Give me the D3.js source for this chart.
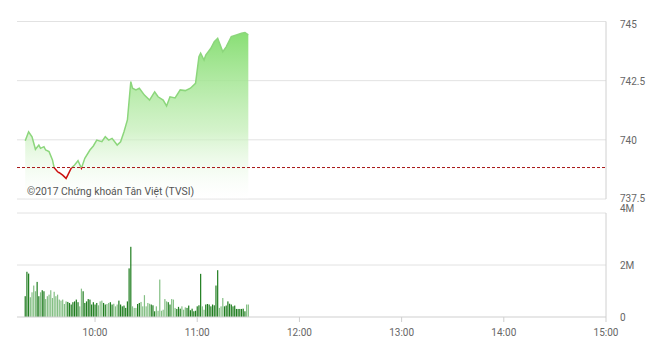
<!DOCTYPE html>
<html lang="en">
<head>
<meta charset="utf-8">
<script src="https://d3js.org/d3.v7.min.js"></script>
<style type="text/css">
body {
	margin: 0;
	background: #fff;
}
text {
	font-family: Roboto, "Noto Sans", sans-serif;
}
.tick-label {
	font-size: 10px;
	fill: #666;
}
.copyright {
	font-size: 10.4px;
	fill: #555;
}
</style>
</head>
<body>
<script type="text/javascript">

// Price series (HH:MM, index points)
var priceTimes = ["9:19","9:21","9:23","9:25","9:27","9:28","9:30","9:31","9:33","9:35",
                  "9:36","9:38","9:39","9:41","9:43","9:44","9:46","9:48","9:50","9:52",
                  "9:54","9:57","9:59","10:01","10:04","10:06","10:08","10:10","10:13","10:15",
                  "10:17","10:19","10:21","10:22","10:24","10:26","10:29","10:32","10:35","10:37",
                  "10:40","10:42","10:44","10:47","10:50","10:53","10:56","10:59","11:01","11:02",
                  "11:04","11:05","11:08","11:10","11:12","11:15","11:17","11:20","11:23","11:26",
                  "11:28","11:30"];
var priceValues = [739.96,740.34,740.13,739.60,739.78,739.64,739.71,739.57,739.50,739.15,
                   738.82,738.65,738.61,738.51,738.37,738.51,738.80,738.94,739.12,738.80,
                   739.22,739.57,739.74,739.99,739.92,740.13,739.99,740.06,739.78,739.92,
                   740.34,740.84,742.46,742.18,742.11,742.18,741.89,741.68,742.03,741.82,
                   741.68,741.43,741.82,741.77,742.11,742.08,742.18,742.39,743.51,743.66,
                   743.37,743.58,743.87,744.15,744.29,743.72,743.93,744.36,744.43,744.50,
                   744.53,744.43];

// Reference (previous close)
var refPrice = 738.83;

// Volume per minute (millions), first bar at volStart
var volStart = "9:19";
var volumes = [0.80,1.74,1.67,0.76,0.95,1.21,0.99,1.35,0.80,0.95,
               1.03,0.99,0.69,0.80,0.86,1.03,0.73,0.97,0.80,0.86,
               0.67,0.63,0.67,0.50,0.60,0.58,0.54,0.48,0.57,0.60,
               0.67,0.57,0.41,1.09,0.99,0.54,0.60,0.69,0.67,0.48,
               0.57,0.48,0.54,0.45,0.60,0.63,0.54,0.48,0.50,0.54,
               0.57,0.48,0.51,0.41,0.48,0.63,0.48,0.41,0.44,0.35,
               0.60,1.87,2.70,0.41,0.35,
               0.35,0.50,0.54,0.58,0.41,0.84,0.41,0.54,0.51,0.48,
               0.45,0.22,0.41,0.24,1.44,0.24,0.28,0.69,0.60,0.57,
               0.48,0.69,0.67,0.35,0.31,0.39,0.32,0.41,0.28,0.37,
               0.35,0.44,0.26,0.32,0.22,0.24,0.41,0.45,1.66,0.41,
               0.28,0.48,0.50,0.48,0.41,0.48,0.45,1.21,1.80,0.35,
               0.41,0.73,0.41,0.44,0.60,0.51,0.48,0.41,0.44,0.31,
               0.31,0.31,0.31,0.32,0.22,0.48,0.48];

// Axis ticks
var priceTicks = [737.5, 740, 742.5, 745];
var priceTickLabels = ["737.5", "740", "742.5", "745"];
var volTicks = [0, 2, 4];
var volTickLabels = ["0", "2M", "4M"];
var timeTicks = ["10:00", "11:00", "12:00", "13:00", "14:00", "15:00"];

var width = 660;
var height = 350;
var left = 17;
var right = 606;

var parseTime = d3.timeParse("%H:%M");

var price = priceTimes.map(function(t, i) {
  return {time: parseTime(t), value: priceValues[i]};
});

var volStartTime = parseTime(volStart);
var vol = volumes.map(function(v, i) {
  return {time: d3.timeMinute.offset(volStartTime, i), value: v};
});

// Scales
var x = d3.scaleTime()
          .domain([parseTime("9:15"), parseTime("15:00")])
          .range([18.4, right]);

var y = d3.scaleLinear()
          .domain([737.5, 745])
          .range([199, 21.5]);

var yVol = d3.scaleLinear()
             .domain([0, 4])
             .range([317, 213]);

var svg = d3.select("body")
            .append("svg")
            .attr("width", width)
            .attr("height", height);

var defs = svg.append("defs");

// Gradient for the price area
var grad = defs.append("linearGradient")
               .attr("id", "areaFill")
               .attr("gradientUnits", "userSpaceOnUse")
               .attr("x1", 0).attr("y1", 30)
               .attr("x2", 0).attr("y2", 199);
grad.append("stop").attr("offset", "0%").attr("stop-color", "#80dc6b").attr("stop-opacity", 0.95);
grad.append("stop").attr("offset", "60%").attr("stop-color", "#c6efba").attr("stop-opacity", 0.75);
grad.append("stop").attr("offset", "100%").attr("stop-color", "#ffffff").attr("stop-opacity", 0.2);

// Clip above / below the reference line
defs.append("clipPath").attr("id", "aboveRef")
    .append("rect")
    .attr("x", 0).attr("y", 0)
    .attr("width", width).attr("height", y(refPrice));
defs.append("clipPath").attr("id", "belowRef")
    .append("rect")
    .attr("x", 0).attr("y", y(refPrice))
    .attr("width", width).attr("height", height);

// Price gridlines
svg.selectAll("line.pgrid")
   .data(priceTicks)
   .enter()
   .append("line")
   .attr("class", "pgrid")
   .attr("x1", left)
   .attr("x2", right)
   .attr("y1", function(d) { return y(d); })
   .attr("y2", function(d) { return y(d); })
   .style("stroke", "#e2e2e2")
   .style("stroke-width", 1);

// Volume gridlines (0 line drawn as axis)
svg.selectAll("line.vgrid")
   .data(volTicks.filter(function(d) { return d > 0; }))
   .enter()
   .append("line")
   .attr("class", "vgrid")
   .attr("x1", left)
   .attr("x2", right)
   .attr("y1", function(d) { return yVol(d); })
   .attr("y2", function(d) { return yVol(d); })
   .style("stroke", "#e2e2e2")
   .style("stroke-width", 1);

// Right borders of both panels
svg.append("line")
   .attr("x1", right).attr("x2", right)
   .attr("y1", y(745)).attr("y2", y(737.5))
   .style("stroke", "#d0d0d0");
svg.append("line")
   .attr("x1", right).attr("x2", right)
   .attr("y1", yVol(4)).attr("y2", yVol(0))
   .style("stroke", "#d0d0d0");

// Price area
var area = d3.area()
             .x(function(d) { return x(d.time); })
             .y0(y(737.5))
             .y1(function(d) { return y(d.value); });

svg.append("path")
   .datum(price)
   .attr("d", area)
   .style("fill", "url(#areaFill)");

// Copyright text
svg.append("text")
   .attr("class", "copyright")
   .attr("x", 27)
   .attr("y", 195)
   .text("©2017 Chứng khoán Tân Việt (TVSI)");

// Price line, green above reference, red below
var line = d3.line()
             .x(function(d) { return x(d.time); })
             .y(function(d) { return y(d.value); });

svg.append("path")
   .datum(price)
   .attr("d", line)
   .attr("clip-path", "url(#aboveRef)")
   .style("fill", "none")
   .style("stroke", "#8cd67c")
   .style("stroke-width", 1.5);

svg.append("path")
   .datum(price)
   .attr("d", line)
   .attr("clip-path", "url(#belowRef)")
   .style("fill", "none")
   .style("stroke", "#cc1010")
   .style("stroke-width", 1.5);

// Reference dashed line
svg.append("line")
   .attr("x1", left)
   .attr("x2", right)
   .attr("y1", y(refPrice))
   .attr("y2", y(refPrice))
   .style("stroke", "#a81818")
   .style("stroke-width", 1)
   .style("stroke-dasharray", "3,2");

// Price at a given time (for bar shading)
var priceAt = function(t) {
  var i = d3.bisector(function(d) { return d.time; }).left(price, t);
  if (i <= 0) return price[0].value;
  if (i >= price.length) return price[price.length - 1].value;
  var a = price[i - 1], b = price[i];
  var k = (t - a.time) / (b.time - a.time);
  return a.value + (b.value - a.value) * k;
};

// Volume bars
svg.selectAll("rect.vol")
   .data(vol)
   .enter()
   .append("rect")
   .attr("class", "vol")
   .attr("x", function(d) { return x(d.time) - 0.6; })
   .attr("width", 1.2)
   .attr("y", function(d) { return yVol(d.value); })
   .attr("height", function(d) { return yVol(0) - yVol(d.value); })
   .style("fill", function(d) {
     var prev = priceAt(d3.timeMinute.offset(d.time, -1));
     return priceAt(d.time) >= prev ? "#1f7d1f" : "#84bf84";
   });

// Bottom time axis
svg.append("line")
   .attr("x1", left)
   .attr("x2", right)
   .attr("y1", yVol(0))
   .attr("y2", yVol(0))
   .style("stroke", "#cfcfcf");

svg.selectAll("line.xtick")
   .data(timeTicks)
   .enter()
   .append("line")
   .attr("class", "xtick")
   .attr("x1", function(d) { return x(parseTime(d)); })
   .attr("x2", function(d) { return x(parseTime(d)); })
   .attr("y1", yVol(0))
   .attr("y2", yVol(0) + 5)
   .style("stroke", "#cfcfcf");

svg.selectAll("text.xlabel")
   .data(timeTicks)
   .enter()
   .append("text")
   .attr("class", "tick-label xlabel")
   .attr("x", function(d) { return x(parseTime(d)); })
   .attr("y", 335.5)
   .attr("text-anchor", "middle")
   .text(function(d) { return d; });

// Right axis labels
svg.selectAll("text.plabel")
   .data(priceTicks)
   .enter()
   .append("text")
   .attr("class", "tick-label plabel")
   .attr("x", 620)
   .attr("y", function(d) { return y(d) + (d == 745 ? 6 : (d == 737.5 ? 2.5 : 4)); })
   .text(function(d, i) { return priceTickLabels[i]; });

svg.selectAll("text.vlabel")
   .data(volTicks)
   .enter()
   .append("text")
   .attr("class", "tick-label vlabel")
   .attr("x", 620)
   .attr("y", function(d) { return yVol(d) + (d == 4 ? -1.5 : 4); })
   .text(function(d, i) { return volTickLabels[i]; });

</script>
</body>
</html>
